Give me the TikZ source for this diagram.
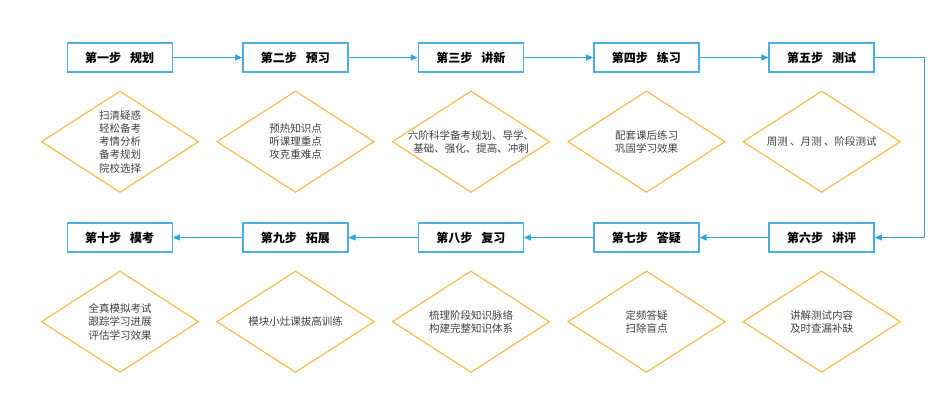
\documentclass[tikz,border=0pt]{standalone}
\usepackage{fontspec}
\setmainfont{Noto Sans CJK SC}
\newfontfamily\cjk{Noto Sans CJK SC}
\usetikzlibrary{arrows.meta}
\definecolor{boxblue}{HTML}{4AAFE6}
\definecolor{arrblue}{HTML}{2BA5DE}
\definecolor{diaorange}{HTML}{F8B73B}
\definecolor{txtgrey}{HTML}{404040}
\tikzset{
  stepbox/.style={draw=boxblue, line width=1.4pt, minimum width=105pt, minimum height=29pt, inner sep=0pt, font=\cjk\bfseries\fontsize{12pt}{14pt}\selectfont, text=black},
  dtext/.style={align=center, inner sep=0pt, font=\cjk\fontsize{10.5pt}{13.3pt}\selectfont, text=txtgrey},
  dia/.style={draw=diaorange, line width=1.1pt, line join=miter},
  conn/.style={draw=arrblue, line width=0.9pt, -{Triangle[length=7pt,width=6pt]}}
}
\newcommand{\mydia}[1]{%
  \draw[dia] ([xshift=-78.5pt]#1.center) -- ([yshift=50.5pt]#1.center) -- ([xshift=78.5pt]#1.center) -- ([yshift=-50.5pt]#1.center) -- cycle;}
\newcommand{\gap}{\hspace{9pt}}
\begin{document}
\begin{tikzpicture}[x=1pt,y=-1pt]
\useasboundingbox (0,0) rectangle (947,419);
% row 1 boxes
\node[stepbox] (s1) at (119.7,57.5) {第一步\gap 规划};
\node[stepbox] (s2) at (295.3,57.5) {第二步\gap 预习};
\node[stepbox] (s3) at (470.8,57.5) {第三步\gap 讲新};
\node[stepbox] (s4) at (646.3,57.5) {第四步\gap 练习};
\node[stepbox] (s5) at (821.6,57.5) {第五步\gap 测试};
% row 2 boxes
\node[stepbox] (s6) at (821.6,237.5) {第六步\gap 讲评};
\node[stepbox] (s7) at (646.3,237.5) {第七步\gap 答疑};
\node[stepbox] (s8) at (470.8,237.5) {第八步\gap 复习};
\node[stepbox] (s9) at (295.3,237.5) {第九步\gap 拓展};
\node[stepbox] (s10) at (119.7,237.5) {第十步\gap 模考};
% connectors
\draw[conn] (s1) -- (s2);
\draw[conn] (s2) -- (s3);
\draw[conn] (s3) -- (s4);
\draw[conn] (s4) -- (s5);
\coordinate (c1) at (924,57.5);
\coordinate (c2) at (924,237.5);
\draw[conn] (s5.east) -- (c1) -- (c2) -- (s6.east);
\draw[conn] (s6) -- (s7);
\draw[conn] (s7) -- (s8);
\draw[conn] (s8) -- (s9);
\draw[conn] (s9) -- (s10);
% diamonds row 1
\node[dtext] (d1) at (120,141.7) {扫清疑惑\\轻松备考\\考情分析\\备考规划\\院校选择};
\node[dtext] (d2) at (295.5,141.7) {预热知识点\\听课理重点\\攻克重难点};
\node[dtext] (d3) at (471,141.7) {六阶科学备考规划、导学、\\基础、强化、提高、冲刺};
\node[dtext] (d4) at (646.5,141.7) {配套课后练习\\巩固学习效果};
\node[dtext] (d5) at (821.7,141.7) {周测 、月测 、阶段测试};
% diamonds row 2
\node[dtext] (d6) at (821.7,321.7) {讲解测试内容\\及时查漏补缺};
\node[dtext] (d7) at (646.5,321.7) {定频答疑\\扫除盲点};
\node[dtext] (d8) at (471,321.7) {梳理阶段知识脉络\\构建完整知识体系};
\node[dtext] (d9) at (295.5,321.7) {模块小灶课拔高训练};
\node[dtext] (d10) at (120,321.7) {全真模拟考试\\跟踪学习进展\\评估学习效果};
\mydia{d1}\mydia{d2}\mydia{d3}\mydia{d4}\mydia{d5}
\mydia{d6}\mydia{d7}\mydia{d8}\mydia{d9}\mydia{d10}
\end{tikzpicture}
\end{document}
